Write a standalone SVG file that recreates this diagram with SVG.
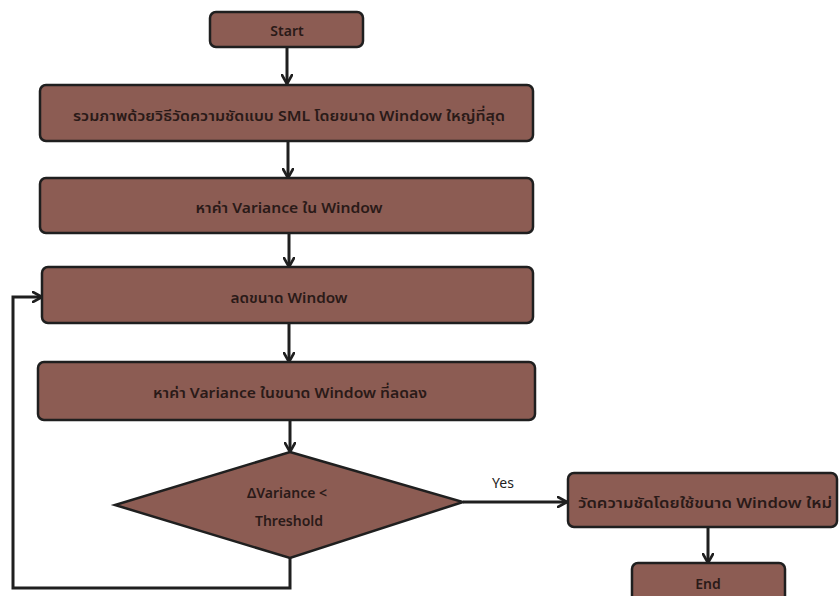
<svg xmlns="http://www.w3.org/2000/svg" width="840" height="596" viewBox="0 0 840 596">
<defs>
<marker id="ah" viewBox="0 0 12 12" refX="10" refY="6" markerWidth="12" markerHeight="12" markerUnits="userSpaceOnUse" orient="auto">
<path d="M1,1 L10,6 L1,11" fill="none" stroke="#1f1f1f" stroke-width="2.6" stroke-linecap="round" stroke-linejoin="miter"/>
</marker>
</defs>
<style>
.box{fill:#8c5c53;stroke:#1f1f1f;stroke-width:2.5}
.lbl{font-family:"Noto Sans","Noto Sans Thai","DejaVu Sans",sans-serif;font-size:14px;font-weight:600;fill:#2a1a18;text-anchor:middle;dominant-baseline:central}
.plain{font-family:"Noto Sans","DejaVu Sans",sans-serif;font-size:14px;fill:#222;text-anchor:middle;dominant-baseline:central}
.conn{fill:none;stroke:#1f1f1f;stroke-width:3;stroke-linejoin:miter}
</style>
<rect width="840" height="596" fill="#ffffff"/>
<g id="connectors">
<line class="conn" x1="287" y1="47" x2="287" y2="84" marker-end="url(#ah)"/>
<line class="conn" x1="288" y1="141" x2="288" y2="178" marker-end="url(#ah)"/>
<line class="conn" x1="289" y1="233" x2="289" y2="267" marker-end="url(#ah)"/>
<line class="conn" x1="289" y1="323" x2="289" y2="362" marker-end="url(#ah)"/>
<line class="conn" x1="290" y1="420" x2="290" y2="452" marker-end="url(#ah)"/>
<path class="conn" d="M290,558 L290,588 L13,588 L13,297 L42,297" marker-end="url(#ah)"/>
<line class="conn" x1="463" y1="502" x2="567" y2="502" marker-end="url(#ah)"/>
<line class="conn" x1="708" y1="527" x2="708" y2="563" marker-end="url(#ah)"/>
<text class="plain" x="503" y="482">Yes</text>
</g>
<g id="start">
<rect class="box" x="210" y="12" width="153" height="35" rx="6"/>
<text class="lbl" x="287" y="30">Start</text>
</g>
<g id="combine">
<rect class="box" x="40" y="85" width="493" height="56" rx="6"/>
<text class="lbl" x="289" y="115" textLength="432" lengthAdjust="spacingAndGlyphs">รวมภาพด้วยวิธีวัดความชัดแบบ SML โดยขนาด Window ใหญ่ที่สุด</text>
</g>
<g id="variance">
<rect class="box" x="40" y="178" width="493" height="55" rx="6"/>
<text class="lbl" x="289" y="207" textLength="187" lengthAdjust="spacingAndGlyphs">หาค่า Variance ใน Window</text>
</g>
<g id="reduce">
<rect class="box" x="42" y="267" width="491" height="56" rx="6"/>
<text class="lbl" x="289" y="297" textLength="117" lengthAdjust="spacingAndGlyphs">ลดขนาด Window</text>
</g>
<g id="variance2">
<rect class="box" x="38" y="362" width="497" height="58" rx="6"/>
<text class="lbl" x="290" y="392" textLength="274" lengthAdjust="spacingAndGlyphs">หาค่า Variance ในขนาด Window ที่ลดลง</text>
</g>
<g id="decision">
<polygon class="box" points="290,452 463,502 290,558 115,505"/>
<text class="lbl" x="287" y="492">ΔVariance &lt;</text>
<text class="lbl" x="289" y="520">Threshold</text>
</g>
<g id="measure">
<rect class="box" x="568" y="473" width="269" height="54" rx="6"/>
<text class="lbl" x="705" y="502" textLength="254" lengthAdjust="spacingAndGlyphs">วัดความชัดโดยใช้ขนาด Window ใหม่</text>
</g>
<g id="end">
<rect class="box" x="632" y="563" width="153" height="40" rx="6"/>
<text class="lbl" x="708" y="583">End</text>
</g>
</svg>
